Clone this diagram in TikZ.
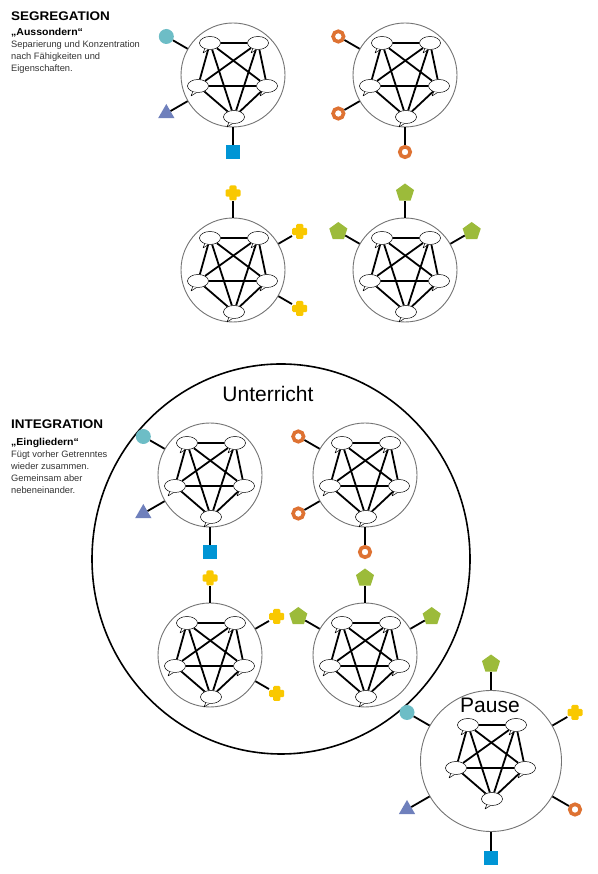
\documentclass[tikz,border=0pt]{standalone}
\usepackage{fontspec}
\setmainfont{Liberation Sans}
\usetikzlibrary{shapes.geometric,calc}

\definecolor{dotteal}{HTML}{6DBDC6}
\definecolor{triblue}{HTML}{6F80BC}
\definecolor{sqblue}{HTML}{0095D5}
\definecolor{ringorange}{HTML}{DE7232}
\definecolor{crossyellow}{HTML}{F9C800}
\definecolor{pentgreen}{HTML}{9CBB3A}

\tikzset{
  grp/.style={circle,draw=black!55,line width=0.9pt,minimum size=104pt,inner sep=0pt},
  bubble/.style={ellipse,draw,fill=white,line width=0.5pt,minimum width=21pt,minimum height=13pt,inner sep=0pt},
  link/.style={line width=1.8pt},
  spoke/.style={line width=1.8pt},
  dot/.style={circle,fill=dotteal,minimum size=15pt,inner sep=0pt},
  tri/.style={regular polygon,regular polygon sides=3,fill=triblue,minimum size=19pt,inner sep=0pt},
  sq/.style={rectangle,fill=sqblue,minimum size=14pt,inner sep=0pt},
  ring/.style={circle,draw=ringorange,line width=3.6pt,minimum size=10.5pt,inner sep=0pt},
  pent/.style={regular polygon,regular polygon sides=5,fill=pentgreen,minimum size=19pt,inner sep=0pt},
  crossmark/.style={rectangle,minimum size=15pt,inner sep=0pt,
    path picture={\fill[crossyellow,rounded corners=1.2pt]
      ([shift={(-7.5,-3.6)}]path picture bounding box.center) rectangle ++(15,7.2)
      ([shift={(-3.6,-7.5)}]path picture bounding box.center) rectangle ++(7.2,15);}},
  heading/.style={anchor=base west,inner sep=0pt,font=\bfseries\fontsize{12.5}{14}\selectfont\addfontfeatures{FakeStretch=1.08}},
  motto/.style={anchor=base west,inner sep=0pt,font=\bfseries\fontsize{10}{12}\selectfont\addfontfeatures{FakeStretch=1.05}},
  blurb/.style={anchor=north west,inner sep=0pt,align=left,font=\fontsize{9.3}{11.8}\selectfont,text=black!80},
  bigword/.style={inner sep=0pt,font=\fontsize{21}{24}\selectfont},
}

% one speech bubble: name, position
\newcommand{\talk}[2]{%
  \node[bubble] (#1) at (#2) {};
  \fill[white] (#1.228) -- ([shift={(-7,-10)}]#1.center) -- (#1.256) -- cycle;
  \draw[line width=0.5pt,line join=round] (#1.228) -- ([shift={(-7,-10)}]#1.center) -- (#1.256);
}

% five bubbles, everybody talks to everybody
\newcommand{\network}[2]{%
  \talk{#1-1}{$(#2)+(-23,32)$}
  \talk{#1-2}{$(#2)+(25,32)$}
  \talk{#1-3}{$(#2)+(-35,-11)$}
  \talk{#1-4}{$(#2)+(34,-11)$}
  \talk{#1-5}{$(#2)+(1,-42)$}
  \foreach \i/\j in {1/2,1/3,1/4,1/5,2/3,2/4,2/5,3/4,3/5,4/5}
    \draw[link] (#1-\i) -- (#1-\j);
}

% symbols around a group: group, distance, angle/style list
\newcommand{\satellites}[3]{%
  \foreach \a/\s [count=\k] in {#3}{%
    \node[\s] (#1-s\k) at ($(#1)+(\a:#2)$) {};
    \draw[spoke] (#1.\a) -- (#1-s\k);
  }}

\begin{document}
\begin{tikzpicture}[x=1pt,y=1pt]
\useasboundingbox (0,0) rectangle (597,874);

% Segregation
\node[heading] (segtitle) at (11,853) {SEGREGATION};
\node[motto] (segmotto) at (11,838) {„Aussondern“};
\node[blurb] (segblurb) at (11,833) {Separierung und Konzentration\\nach Fähigkeiten und\\Eigenschaften.};

\node[grp] (g1) at (233,799) {};
\network{g1}{g1}
\satellites{g1}{77}{150/dot,210/tri,270/sq}

\node[grp] (g2) at (405,799) {};
\network{g2}{g2}
\satellites{g2}{77}{150/ring,210/ring,270/ring}

\node[grp] (g3) at (233,604) {};
\network{g3}{g3}
\satellites{g3}{77}{90/crossmark,30/crossmark,-30/crossmark}

\node[grp] (g4) at (405,604) {};
\network{g4}{g4}
\satellites{g4}{77}{90/pent,150/pent,30/pent}

% Integration
\node[heading] (inttitle) at (11,445) {INTEGRATION};
\node[motto] (intmotto) at (11,428.5) {„Eingliedern“};
\node[blurb] (intblurb) at (11,423) {Fügt vorher Getrenntes\\wieder zusammen.\\Gemeinsam aber\\nebeneinander.};

% the classroom
\draw[line width=1.6pt] (281,315) ellipse [x radius=189, y radius=195];
\node[bigword] (lesson) at (268,480) {Unterricht};

\node[grp] (i1) at (210,399) {};
\network{i1}{i1}
\satellites{i1}{77}{150/dot,210/tri,270/sq}

\node[grp] (i2) at (365,399) {};
\network{i2}{i2}
\satellites{i2}{77}{150/ring,210/ring,270/ring}

\node[grp] (i3) at (210,219) {};
\network{i3}{i3}
\satellites{i3}{77}{90/crossmark,30/crossmark,-30/crossmark}

\node[grp] (i4) at (365,219) {};
\network{i4}{i4}
\satellites{i4}{77}{90/pent,150/pent,30/pent}

% Pause
\node[grp,minimum size=141pt] (pause) at (491,113) {};
\node[bigword] (pauseword) at (490,169) {Pause};
\coordinate (pausenet) at (491,117);
\network{pause}{pausenet}
\satellites{pause}{97}{90/pent,30/crossmark,-30/ring,270/sq,210/tri,150/dot}
\end{tikzpicture}
\end{document}
